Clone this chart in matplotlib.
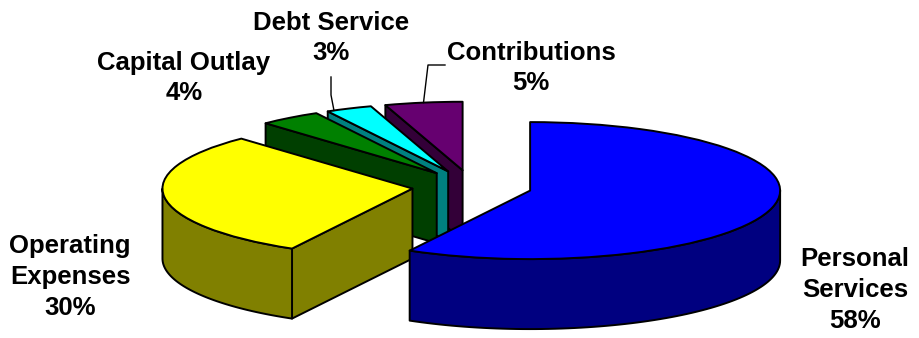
import numpy as np
import matplotlib.pyplot as plt
from matplotlib.patches import Wedge, Polygon
from matplotlib.transforms import Affine2D

# Budget shares, drawn clockwise from 12 o'clock
categories = ["Personal\nServices", "Operating\nExpenses", "Capital Outlay",
              "Debt Service", "Contributions"]
shares = [58, 30, 4, 3, 5]
top_colors = ["#0000FF", "#FFFF00", "#008000", "#00FFFF", "#660070"]
side_colors = ["#000080", "#808000", "#003F00", "#008080", "#330038"]

# label block centres (pixels, y down)
label_xy = [(855, 290), (70, 277), (184, 78), (331, 38), (531, 68)]
# leader lines: where on the rim they start (0 = mid-angle, 1 = leading edge),
# then knee and end next to the label
leaders = {3: (0.7, [(331, 95), (331, 77)]),
           4: (0.0, [(428, 65), (445, 65)])}

plt.rcParams["font.family"] = ["Liberation Sans", "DejaVu Sans"]

fig = plt.figure(figsize=(9.19, 3.38), dpi=100)
ax = fig.add_axes([0, 0, 1, 1])
ax.set_xlim(0, 919)
ax.set_ylim(338, 0)
ax.axis("off")

# pie geometry: centre, ellipse radii, thickness, explode distance
cx, cy = 472, 186.5
rx, ry = 250, 68.5
depth = 70
explode = 0.24

unit = Affine2D().scale(rx, -ry).translate(cx, cy) + ax.transData


def proj(u, v, dz=0.0):
    return cx + rx * u, cy - ry * v + dz


total = sum(shares)
bounds = 90 - 360 * np.concatenate([[0], np.cumsum(shares)]) / total

slices = []
for i in range(len(shares)):
    a0, a1 = bounds[i], bounds[i + 1]
    mid = np.radians((a0 + a1) / 2)
    slices.append(dict(a0=a0, a1=a1, mid=mid,
                       ox=explode * np.cos(mid), oy=explode * np.sin(mid)))

# back slices first
order = sorted(range(len(shares)), key=lambda i: -np.sin(slices[i]["mid"]))

edge = dict(edgecolor="black", linewidth=1.4, joinstyle="round")

for z, i in enumerate(order):
    s = slices[i]
    ox, oy, a0, a1 = s["ox"], s["oy"], s["a0"], s["a1"]
    zb = 2 + z * 3

    # radial side faces that face the viewer
    for ang, visible in ((a0, np.cos(np.radians(a0)) < -1e-6),
                         (a1, np.cos(np.radians(a1)) > 1e-6)):
        if not visible:
            continue
        r = np.radians(ang)
        pts = [proj(ox, oy), proj(ox + np.cos(r), oy + np.sin(r)),
               proj(ox + np.cos(r), oy + np.sin(r), depth), proj(ox, oy, depth)]
        ax.add_patch(Polygon(pts, closed=True, facecolor=side_colors[i],
                             zorder=zb, **edge))

    # outer curved wall on the front half of the ellipse
    for k in (-360, 0, 360):
        lo, hi = max(a1, -180 + k), min(a0, 0 + k)
        if hi <= lo:
            continue
        t = np.radians(np.linspace(lo, hi, 80))
        top = [proj(ox + np.cos(a), oy + np.sin(a)) for a in t]
        bot = [proj(ox + np.cos(a), oy + np.sin(a), depth) for a in t[::-1]]
        ax.add_patch(Polygon(top + bot, closed=True, facecolor=side_colors[i],
                             zorder=zb + 1, **edge))

    # top face
    ax.add_patch(Wedge((ox, oy), 1, a1, a0, transform=unit,
                       facecolor=top_colors[i], zorder=zb + 2, **edge))

# labels
for i, (name, share) in enumerate(zip(categories, shares)):
    x, y = label_xy[i]
    ax.text(x, y, f"{name}\n{share}%", ha="center", va="center",
            fontsize=18.5, fontweight="bold", linespacing=1.35, zorder=30)

# leader lines from slice rim to label
for i, (frac, pts) in leaders.items():
    s = slices[i]
    ang = s["mid"] + frac * (np.radians(s["a0"]) - s["mid"])
    rim = proj(s["ox"] + np.cos(ang), s["oy"] + np.sin(ang))
    xs = [rim[0]] + [p[0] for p in pts]
    ys = [rim[1]] + [p[1] for p in pts]
    ax.plot(xs, ys, color="black", linewidth=1, zorder=25)

fig.savefig("out.png", dpi=100, facecolor="white")
